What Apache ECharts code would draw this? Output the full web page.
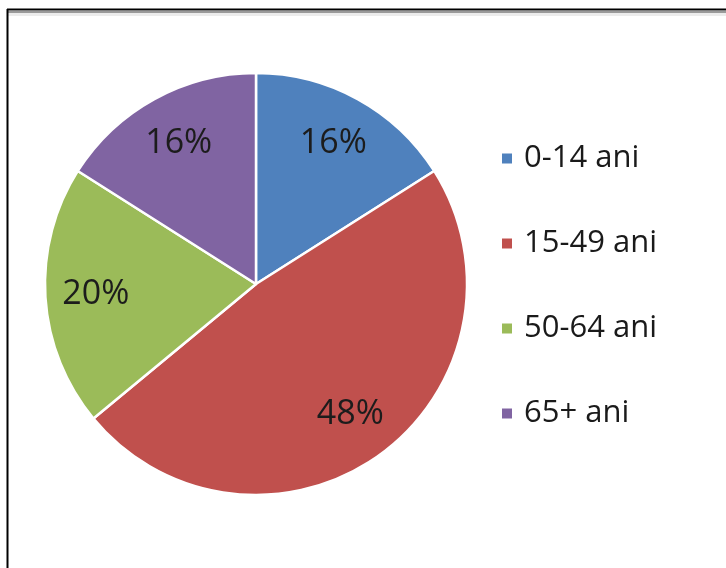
<!DOCTYPE html>
<html>
<head>
<meta charset="utf-8">
<script src="https://cdn.jsdelivr.net/npm/echarts@6/dist/echarts.min.js"></script>
<style>
  html, body { margin: 0; padding: 0; background: #fff; }
  #chart { width: 726px; height: 568px; }
</style>
</head>
<body>
<div id="chart"></div>
<script>
// Population by age group (share of total, %)
const categories = ['0-14 ani', '15-49 ani', '50-64 ani', '65+ ani'];
const shares = [16, 48, 20, 16];
const colors = ['#4F81BD', '#C0504D', '#9BBB59', '#8064A2'];

const pieData = categories.map((name, i) => ({
  name,
  value: shares[i],
  itemStyle: { color: colors[i] }
}));

const labelData = categories.map((name, i) => ({ name, value: shares[i] }));

const chart = echarts.init(document.getElementById('chart'), null, { renderer: 'canvas' });

chart.setOption({
  animation: false,
  backgroundColor: '#ffffff',
  legend: {
    orient: 'vertical',
    left: 497,
    top: 138,
    data: categories,
    icon: 'rect',
    itemWidth: 10,
    itemHeight: 10,
    itemGap: 54,
    itemStyle: { borderWidth: 0 },
    selectedMode: false,
    textStyle: {
      fontFamily: 'Open Sans',
      fontSize: 31,
      lineHeight: 31,
      color: '#1a1a1a',
      padding: [0, 0, 0, 7]
    }
  },
  graphic: [
    // frame: top and left rules with a soft shadow under the top edge
    { type: 'rect', shape: { x: 7, y: 11, width: 719, height: 2 }, style: { fill: '#9a9a9a' }, silent: true },
    { type: 'rect', shape: { x: 7, y: 13, width: 719, height: 3 }, style: { fill: '#ececec' }, silent: true },
    { type: 'line', shape: { x1: 7, y1: 9.5, x2: 726, y2: 9.5 }, style: { stroke: '#000', lineWidth: 2 }, silent: true },
    { type: 'line', shape: { x1: 7.5, y1: 9, x2: 7.5, y2: 568 }, style: { stroke: '#000', lineWidth: 2 }, silent: true }
  ],
  series: [
    {
      type: 'pie',
      center: [256, 284],
      radius: [0, 211],
      startAngle: 90,
      clockwise: true,
      data: pieData,
      label: { show: false },
      labelLine: { show: false },
      itemStyle: { borderColor: '#ffffff', borderWidth: 2.5 },
      emphasis: { disabled: true },
      silent: true
    },
    {
      // percentage labels placed in the outer ring of each slice
      type: 'pie',
      center: [256, 284],
      radius: [104, 211],
      startAngle: 90,
      clockwise: true,
      data: labelData,
      itemStyle: { color: 'rgba(0,0,0,0)' },
      label: {
        show: true,
        position: 'inside',
        formatter: p => p.value + '%',
        fontFamily: 'Open Sans',
        fontSize: 34,
        color: '#1c1c1c'
      },
      labelLine: { show: false },
      emphasis: { disabled: true },
      silent: true
    }
  ]
});
</script>
</body>
</html>
